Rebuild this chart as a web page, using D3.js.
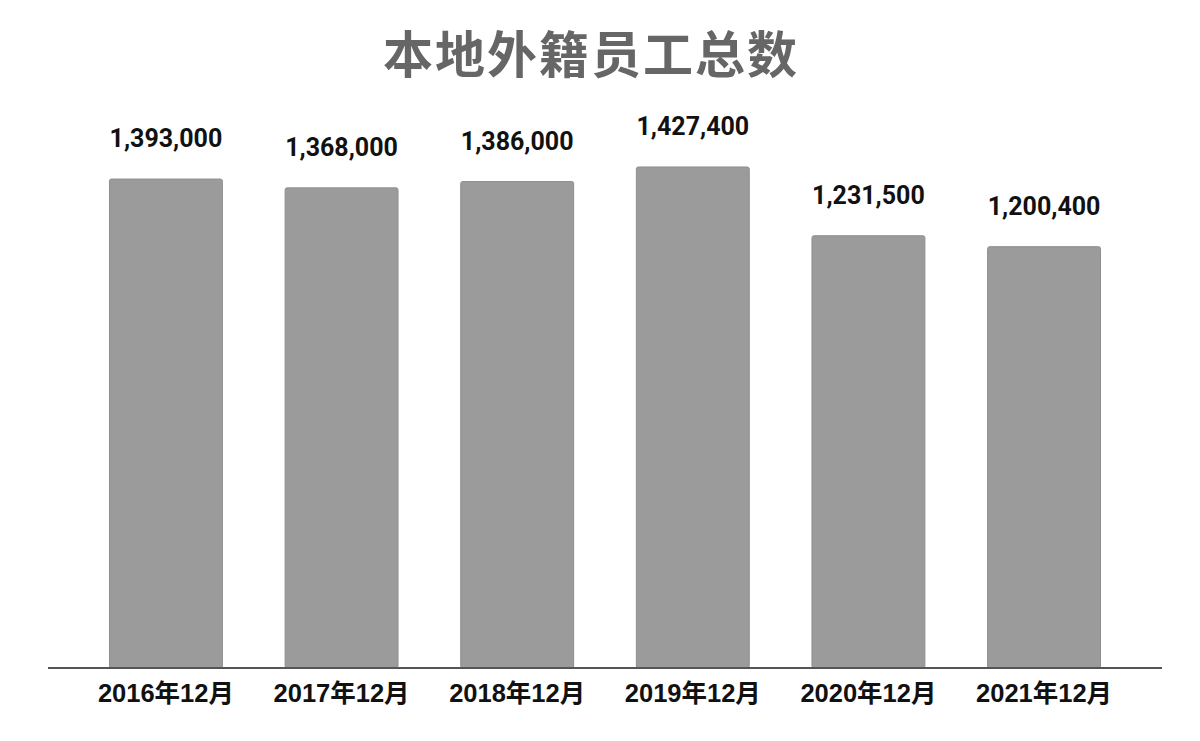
<!DOCTYPE html>
<html>
<head>
<meta charset="utf-8">
<script src="https://cdn.jsdelivr.net/npm/d3@7"></script>
<style>
  body { margin: 0; background: #fff; }
  svg { display: block; }
</style>
</head>
<body>
<svg id="chart_svg" width="1200" height="741"></svg>
<script>
var categories = ["2016年12月", "2017年12月", "2018年12月", "2019年12月", "2020年12月", "2021年12月"];
var employees = [1393000, 1368000, 1386000, 1427400, 1231500, 1200400];
var chartTitle = "本地外籍员工总数";

var svg, gChart;
var svgWidth = 1200, svgHeight = 741;
var axisLeftX = 48, axisRightX = 1162, baseY = 668;

document.addEventListener('DOMContentLoaded', function () {
    svg = d3.select("#chart_svg");
    gChart = svg.append('g');

    var data = categories.map(function (c, i) { return {cat: c, value: employees[i]}; });

    // x: one band per month
    var xScale = d3.scaleBand()
        .domain(categories)
        .range([axisLeftX, axisRightX])
        .paddingInner(0.357)
        .paddingOuter(0.35);

    // y: linear from zero
    var yScale = d3.scaleLinear()
        .domain([0, 1500000])
        .range([baseY, baseY - 526.5]);

    // title
    svg.append('text')
        .attr('x', 591)
        .attr('y', 73)
        .attr('text-anchor', 'middle')
        .attr('font-family', '"Noto Sans CJK SC", sans-serif')
        .attr('font-weight', 'bold')
        .attr('font-size', '50px')
        .attr('letter-spacing', '2px')
        .attr('fill', '#666666')
        .text(chartTitle);

    // bars
    gChart.selectAll('rect.bar')
        .data(data)
        .enter()
        .append('rect')
        .attr('class', 'bar')
        .attr('x', function (d) { return xScale(d.cat); })
        .attr('y', function (d) { return yScale(d.value); })
        .attr('width', xScale.bandwidth())
        .attr('height', function (d) { return baseY - yScale(d.value); })
        .attr('rx', 2)
        .attr('fill', '#9b9b9b')
        .attr('stroke', '#8f8f8f')
        .attr('stroke-width', 1);

    // value labels
    gChart.selectAll('text.val')
        .data(data)
        .enter()
        .append('text')
        .attr('class', 'val')
        .attr('x', function (d) { return xScale(d.cat) + xScale.bandwidth() / 2; })
        .attr('y', function (d) { return yScale(d.value) - 32; })
        .attr('text-anchor', 'middle')
        .attr('font-family', 'Roboto, sans-serif')
        .attr('font-weight', 'bold')
        .attr('font-size', '25px')
        .attr('fill', '#111111')
        .text(function (d) { return d3.format(',')(d.value); });

    // x axis
    var xAxis = d3.axisBottom(xScale).tickSize(0).tickPadding(16);
    var gx = gChart.append('g')
        .attr('transform', 'translate(0,' + baseY + ')')
        .call(xAxis);
    gx.select('.domain')
        .attr('d', 'M' + axisLeftX + ',0H' + axisRightX)
        .attr('stroke', '#555555')
        .attr('stroke-width', 2);
    gx.selectAll('.tick text')
        .attr('font-family', '"Liberation Sans", "Noto Sans CJK SC", sans-serif')
        .attr('font-weight', 'bold')
        .attr('font-size', '25.5px')
        .attr('fill', '#111111');
});
</script>
</body>
</html>
